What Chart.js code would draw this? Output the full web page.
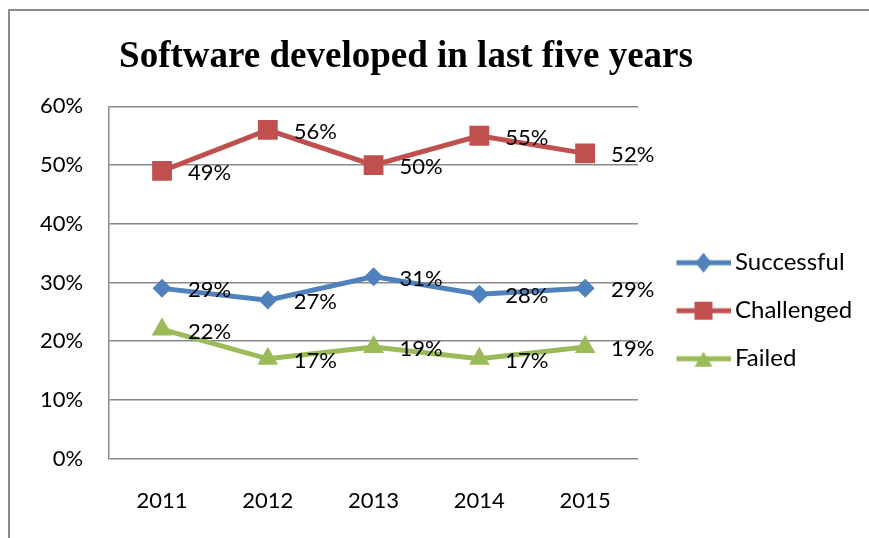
<!DOCTYPE html>
<html lang="en">
<head>
<meta charset="UTF-8">
<title>Software developed in last five years</title>
<script src="https://cdn.jsdelivr.net/npm/chart.js@4.4.0/dist/chart.umd.min.js"></script>
<style>
    html, body { margin: 0; padding: 0; background: #fff; overflow: hidden; }
    #frame { position: absolute; left: 8px; top: 9px; width: 2000px; height: 2000px; border: 2px solid #8a8a8a; }
    #wrap { position: absolute; left: 0; top: 0; width: 869px; height: 538px; }
</style>
</head>
<body>
<div id="frame"></div>
<div id="wrap"><canvas id="chart"></canvas></div>
<script>
    // values (percent)
    const years = ['2011', '2012', '2013', '2014', '2015'];
    const successful = [29, 27, 31, 28, 29];
    const challenged = [49, 56, 50, 55, 52];
    const failed = [22, 17, 19, 17, 19];
    const seriesNames = ['Successful', 'Challenged', 'Failed'];
    const colors = ['#4F81BD', '#C0504D', '#9BBB59'];

    const labelFont = { family: 'Lato', size: 22 };
    const legendFont = { family: 'Lato', size: 24 };
    const gridColor = '#8a8a8a';
    const titleCenterX = 406;

    // little line + marker picture used as the legend symbol
    function legendMark(color, shape) {
        const c = document.createElement('canvas');
        c.width = 76; c.height = 26;
        const g = c.getContext('2d');
        g.strokeStyle = color; g.lineWidth = 5;
        g.beginPath(); g.moveTo(22, 13); g.lineTo(76, 13); g.stroke();
        g.fillStyle = color;
        const cx = 49, cy = 13;
        g.beginPath();
        if (shape === 'rectRot') {
            g.moveTo(cx, cy - 10); g.lineTo(cx + 8, cy); g.lineTo(cx, cy + 10); g.lineTo(cx - 8, cy);
        } else if (shape === 'rect') {
            g.rect(cx - 9, cy - 9, 18, 18);
        } else {
            g.moveTo(cx, cy - 7); g.lineTo(cx + 9, cy + 8); g.lineTo(cx - 9, cy + 8);
        }
        g.closePath(); g.fill();
        return c;
    }

    // percentage label to the right of each point
    const pointLabels = {
        id: 'pointLabels',
        afterDatasetsDraw(chart) {
            const ctx = chart.ctx;
            ctx.save();
            ctx.font = '22px Lato';
            ctx.fillStyle = '#000';
            ctx.textAlign = 'left';
            ctx.textBaseline = 'middle';
            chart.data.datasets.forEach((ds, i) => {
                chart.getDatasetMeta(i).data.forEach((pt, j) => {
                    ctx.fillText(ds.data[j] + '%', pt.x + 26, pt.y + 2);
                });
            });
            ctx.restore();
        }
    };

    // title sits a bit left of the canvas centre in the original,
    // and the legend text is allowed to run to the canvas edge
    const layoutTweaks = {
        id: 'layoutTweaks',
        afterLayout(chart) {
            const t = chart.titleBlock;
            if (t) t.right = t.left + 2 * (titleCenterX - t.left);
            if (chart.legend) chart.legend.right = chart.width;
        }
    };

    const shapes = ['rectRot', 'rect', 'triangle'];
    const radii = [9.5, 14, 12];
    const values = [successful, challenged, failed];

    new Chart(document.getElementById('chart'), {
        type: 'line',
        data: {
            labels: years,
            datasets: values.map((v, i) => ({
                label: seriesNames[i],
                data: v,
                borderColor: colors[i],
                backgroundColor: colors[i],
                borderWidth: 5,
                tension: 0,
                pointStyle: shapes[i],
                pointRadius: radii[i],
                pointHoverRadius: radii[i],
                pointBorderWidth: 0,
                pointBackgroundColor: colors[i]
            }))
        },
        options: {
            responsive: true,
            maintainAspectRatio: false,
            animation: false,
            layout: { autoPadding: false, padding: { left: 14, right: 23, top: 10, bottom: -5 } },
            scales: {
                x: {
                    offset: true,
                    grid: { display: false, drawTicks: false },
                    border: { display: false },
                    ticks: { color: '#000', font: labelFont, padding: 29 }
                },
                y: {
                    min: 0,
                    max: 60,
                    ticks: {
                        stepSize: 10,
                        color: '#000',
                        font: labelFont,
                        padding: 26,
                        callback: v => v + '%'
                    },
                    grid: { color: gridColor, lineWidth: 1.5, drawTicks: false },
                    border: { display: true, color: gridColor, width: 1.5 }
                }
            },
            plugins: {
                title: {
                    display: true,
                    text: 'Software developed in last five years',
                    color: '#000',
                    font: { family: 'Liberation Serif', size: 37, weight: 'bold' },
                    padding: { top: 25, bottom: 27 }
                },
                legend: {
                    position: 'right',
                    title: { display: true, text: ' ', font: labelFont, padding: { top: 21, bottom: 21 } },
                    labels: {
                        color: '#000',
                        font: legendFont,
                        padding: 24,
                        usePointStyle: true,
                        pointStyleWidth: 61,
                        generateLabels: chart => chart.data.datasets.map((ds, i) => ({
                            text: ds.label,
                            fontColor: '#000',
                            pointStyle: legendMark(colors[i], shapes[i]),
                            datasetIndex: i,
                            hidden: false,
                            lineWidth: 0
                        }))
                    }
                },
                tooltip: { enabled: false }
            }
        },
        plugins: [pointLabels, layoutTweaks]
    });
</script>
</body>
</html>
